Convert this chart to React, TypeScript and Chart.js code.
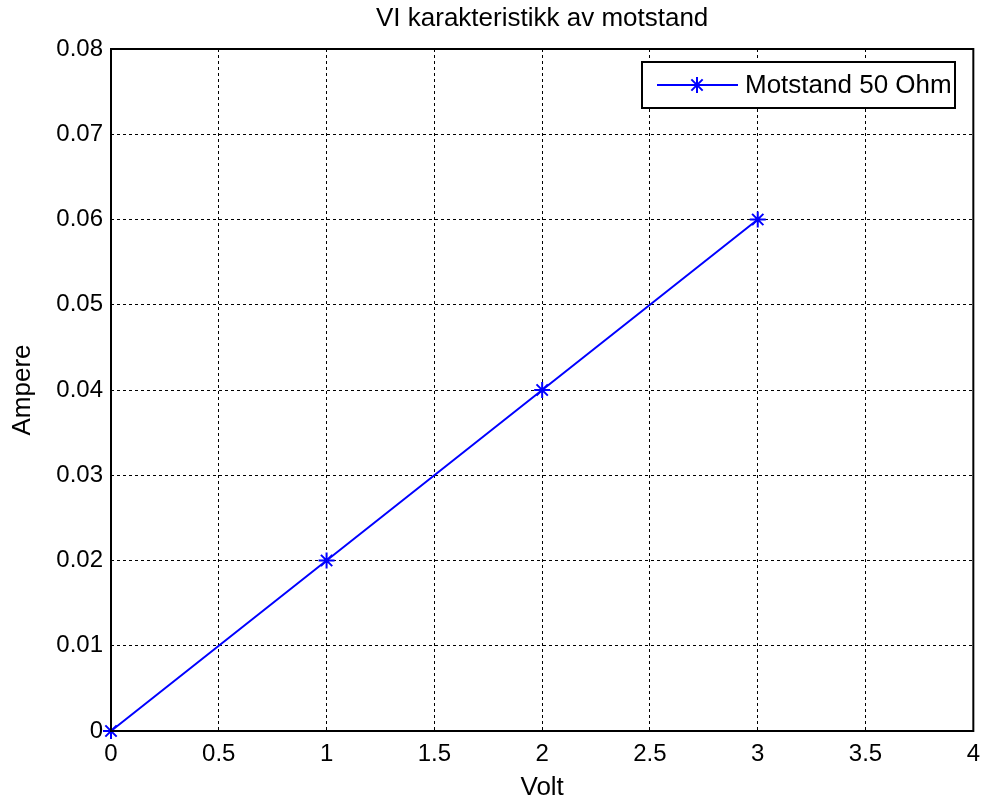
import React, { useEffect, useRef } from "react";
import { Chart, registerables } from "chart.js";

Chart.register(...registerables);

const voltValues = [0, 1, 2, 3];
const ampereValues = [0, 0.02, 0.04, 0.06];
const xTickLabels = ["0", "0.5", "1", "1.5", "2", "2.5", "3", "3.5", "4"];
const yTickLabels = ["0", "0.01", "0.02", "0.03", "0.04", "0.05", "0.06", "0.07", "0.08"];
const seriesLabel = "Motstand 50 Ohm";
const chartTitle = "VI karakteristikk av motstand";
const xAxisTitle = "Volt";
const yAxisTitle = "Ampere";

const FONT = "Liberation Sans, Arial, sans-serif";
const FS = 24;
const FS_BIG = 26;
const BLUE = "#0000ff";

const overlay = {
  id: "matlabOverlay",
  afterDraw(chart: any) {
    const { ctx, chartArea } = chart;
    const { left, right, top, bottom } = chartArea;
    ctx.save();
    // box
    ctx.strokeStyle = "#000";
    ctx.lineWidth = 2;
    ctx.setLineDash([]);
    ctx.strokeRect(left, top, right - left, bottom - top);
    // title and axis titles
    ctx.fillStyle = "#000";
    ctx.font = `${FS_BIG}px ${FONT}`;
    ctx.textAlign = "center";
    ctx.textBaseline = "middle";
    ctx.fillText(chartTitle, (left + right) / 2, 19);
    ctx.fillText(xAxisTitle, (left + right) / 2, 788);
    ctx.save();
    ctx.translate(23, (top + bottom) / 2);
    ctx.rotate(-Math.PI / 2);
    ctx.fillText(yAxisTitle, 0, 0);
    ctx.restore();
    // legend
    const lx1 = 642, lx2 = 955, ly1 = 62, ly2 = 108;
    ctx.fillStyle = "#fff";
    ctx.fillRect(lx1, ly1, lx2 - lx1, ly2 - ly1);
    ctx.strokeStyle = "#000";
    ctx.lineWidth = 2;
    ctx.strokeRect(lx1, ly1, lx2 - lx1, ly2 - ly1);
    const ly = (ly1 + ly2) / 2;
    ctx.strokeStyle = BLUE;
    ctx.lineWidth = 2;
    ctx.beginPath();
    ctx.moveTo(657, ly);
    ctx.lineTo(738, ly);
    ctx.stroke();
    const cx = 697, r = 8;
    ctx.beginPath();
    for (let i = 0; i < 4; i++) {
      const a = (i * Math.PI) / 4;
      ctx.moveTo(cx - r * Math.cos(a), ly - r * Math.sin(a));
      ctx.lineTo(cx + r * Math.cos(a), ly + r * Math.sin(a));
    }
    ctx.stroke();
    ctx.fillStyle = "#000";
    ctx.textAlign = "left";
    ctx.fillText(seriesLabel, 745, ly + 1);
    ctx.restore();
  },
};

export default function App() {
  const ref = useRef<HTMLCanvasElement | null>(null);
  useEffect(() => {
    document.body.style.margin = "0";
    const canvas = ref.current;
    if (!canvas) return;
    const chart = new Chart(canvas, {
      type: "line",
      data: {
        datasets: [
          {
            label: seriesLabel,
            data: voltValues.map((v, i) => ({ x: v, y: ampereValues[i] })),
            borderColor: BLUE,
            backgroundColor: BLUE,
            borderWidth: 2,
            pointStyle: "star",
            pointRadius: 8,
            pointBorderWidth: 2,
            pointBorderColor: BLUE,
            fill: false,
            tension: 0,
            clip: false,
          } as any,
        ],
      },
      options: {
        animation: false,
        responsive: false,
        maintainAspectRatio: false,
        layout: { padding: { left: 0, top: 49, right: 13, bottom: 0 } },
        plugins: {
          legend: { display: false },
          title: { display: false },
          tooltip: { enabled: false },
        },
        scales: {
          x: {
            type: "linear",
            min: 0,
            max: 4,
            ticks: {
              stepSize: 0.5,
              color: "#000",
              font: { family: FONT, size: FS },
              padding: 9,
              maxRotation: 0,
              callback: (_v: any, i: number) => xTickLabels[i],
            },
            grid: { color: "#000", lineWidth: 1, drawTicks: false },
            border: { display: false, dash: [3, 3] },
            afterFit: (s: any) => {
              s.height = 69;
            },
          },
          y: {
            type: "linear",
            min: 0,
            max: 0.08,
            ticks: {
              stepSize: 0.01,
              color: "#000",
              font: { family: FONT, size: FS },
              padding: 8,
              callback: (_v: any, i: number) => yTickLabels[i],
            },
            grid: { color: "#000", lineWidth: 1, drawTicks: false },
            border: { display: false, dash: [3, 3] },
            afterFit: (s: any) => {
              s.width = 111;
            },
          },
        },
      } as any,
      plugins: [overlay],
    });
    return () => chart.destroy();
  }, []);
  return <canvas ref={ref} width={989} height={800} style={{ display: "block" }} />;
}
